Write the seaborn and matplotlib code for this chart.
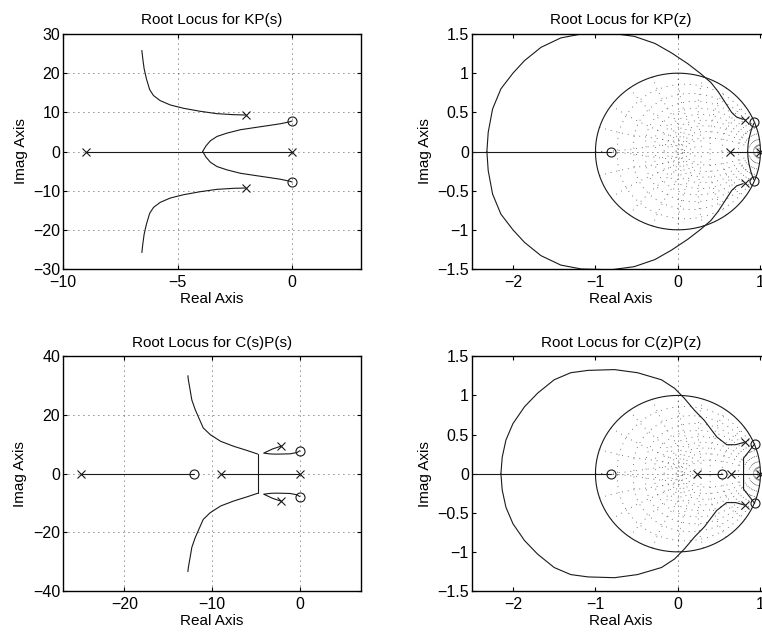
import numpy as np
import matplotlib
matplotlib.use("Agg")
import matplotlib.pyplot as plt
import seaborn as sns
from matplotlib.ticker import FixedLocator, FuncFormatter

# ------------------------------------------------------------------
# Data (upper half of each complex branch;
# the lower half is its complex conjugate)
# ------------------------------------------------------------------
# Panel 1 : Root Locus for KP(s)
s1_pole_re = [-9.0, 0.0, -2.0, -2.0]
s1_pole_im = [0.0, 0.0, 9.3, -9.3]
s1_zero_re = [0.0, 0.0]
s1_zero_im = [7.8, -7.8]
s1_real_seg = [(-9.0, 0.0)]
s1_asym_re = [-2.04, -2.55, -3.28, -4.01, -4.74, -5.32, -5.76, -6.05, -6.22, -6.36, -6.46, -6.52, -6.56]
s1_asym_im = [9.32, 9.40, 9.66, 10.26, 11.03, 11.88, 12.99, 14.27, 15.80, 18.55, 21.1, 23.7, 25.8]
s1_brk_re = [-3.91, -3.76, -3.57, -3.28, -2.84, -2.26, -1.68, -1.09, -0.51, -0.10, 0.0]
s1_brk_im = [0.0, 1.45, 2.74, 3.85, 4.70, 5.56, 6.07, 6.58, 7.09, 7.60, 7.8]

# Panel 2 : Root Locus for KP(z)
z1_pole_re = [0.636, 1.0, 0.81, 0.81]
z1_pole_im = [0.0, 0.0, 0.40, -0.40]
z1_zero_re = [-0.81, 0.925, 0.925]
z1_zero_im = [0.0, 0.38, -0.38]
z1_real_seg = [(-2.5, -0.81), (0.636, 1.0)]
z1_outer_re = [-2.316, -2.30, -2.247, -2.146, -2.0, -1.86, -1.66, -1.42, -1.17, -0.81, -0.53,
               -0.28, -0.08, 0.12, 0.28, 0.40, 0.49, 0.57, 0.65, 0.71, 0.79]
z1_outer_im = [0.0, 0.244, 0.543, 0.80, 1.0, 1.16, 1.33, 1.45, 1.50, 1.51, 1.47,
               1.38, 1.26, 1.12, 0.99, 0.88, 0.76, 0.63, 0.50, 0.44, 0.41]
z1_inner_re = [0.845, 0.85, 0.865, 0.89, 0.92]
z1_inner_im = [0.0, 0.09, 0.18, 0.28, 0.36]

# Panel 3 : Root Locus for C(s)P(s)
s2_pole_re = [-25.0, -9.0, 0.0, -2.1, -2.1]
s2_pole_im = [0.0, 0.0, 0.0, 9.4, -9.4]
s2_zero_re = [-12.0, 0.0, 0.0]
s2_zero_im = [0.0, 7.8, -7.8]
s2_real_seg = [(-25.0, -12.0), (-9.0, 0.0)]
s2_vert_re = [-4.8, -4.8]
s2_vert_im = [-6.7, 6.7]
s2_asym_re = [-4.8, -6.0, -7.5, -9.0, -10.2, -11.0, -11.4, -11.9, -12.3, -12.5, -12.7, -12.75]
s2_asym_im = [6.7, 7.9, 9.3, 11.0, 13.3, 15.6, 18.3, 21.7, 25.1, 28.6, 32.0, 33.4]
s2_loop_re = [-2.1, -3.1, -4.1, -3.3, -2.6, -1.1, -0.3, 0.0]
s2_loop_im = [9.4, 8.4, 7.0, 6.7, 6.65, 6.75, 7.2, 7.8]

# Panel 4 : Root Locus for C(z)P(z)
z2_pole_re = [0.235, 0.64, 1.0, 0.81, 0.81]
z2_pole_im = [0.0, 0.0, 0.0, 0.40, -0.40]
z2_zero_re = [-0.81, 0.535, 0.93, 0.93]
z2_zero_im = [0.0, 0.0, 0.38, -0.38]
z2_real_seg = [(-2.5, -0.81), (0.235, 0.535), (0.64, 1.0)]
z2_outer_re = [-2.146, -2.13, -2.085, -2.0, -1.86, -1.70, -1.50, -1.30, -1.09, -0.77, -0.49,
               -0.20, -0.04, 0.08, 0.20, 0.32, 0.47, 0.59, 0.70, 0.80]
z2_outer_im = [0.0, 0.21, 0.43, 0.64, 0.855, 1.03, 1.20, 1.29, 1.32, 1.33, 1.29,
               1.20, 1.09, 0.96, 0.81, 0.68, 0.47, 0.37, 0.37, 0.40]
z2_inner_re = [0.795, 0.795, 0.93]
z2_inner_im = [0.0, 0.197, 0.38]

# tick values
s1_xticks = [-10, -5, 0]
s1_yticks = [-30, -20, -10, 0, 10, 20, 30]
s2_xticks = [-20, -10, 0]
s2_yticks = [-40, -20, 0, 20, 40]
z_xticks = [-2, -1, 0, 1]
z_yticks = [-1.5, -1, -0.5, 0, 0.5, 1, 1.5]

# ------------------------------------------------------------------
sns.set_theme(style="ticks")
plt.rcParams.update({
    "font.family": ["Liberation Sans", "DejaVu Sans"],
    "font.size": 11,
    "axes.titlesize": 11,
    "axes.labelsize": 11,
    "xtick.labelsize": 11.5,
    "ytick.labelsize": 11.5,
    "axes.edgecolor": "black",
    "axes.linewidth": 1.0,
    "axes.labelcolor": "black",
    "text.color": "black",
    "xtick.color": "black",
    "ytick.color": "black",
    "xtick.direction": "in",
    "ytick.direction": "in",
    "xtick.top": True,
    "ytick.right": True,
    "xtick.major.size": 3,
    "ytick.major.size": 3,
    "xtick.major.width": 0.8,
    "ytick.major.width": 0.8,
    "xtick.major.pad": 4.5,
    "ytick.major.pad": 2,
    "axes.titlepad": 7,
})

LW = 0.8
DOT = (0, (1, 5))
GDOT = (0, (1, 6))

fig = plt.figure(figsize=(7.62, 6.34), dpi=100)
ax1 = fig.add_axes([63 / 762, 1 - 269 / 634, 298 / 762, 235 / 634])
ax2 = fig.add_axes([471.7 / 762, 1 - 269 / 634, 298 / 762, 235 / 634])
ax3 = fig.add_axes([63 / 762, 1 - 591 / 634, 298 / 762, 234.7 / 634])
ax4 = fig.add_axes([471.7 / 762, 1 - 591 / 634, 298 / 762, 234.7 / 634])

fmt = FuncFormatter(lambda v, p: ("%g" % v).replace("-", "\u2212"))


def branch(ax, re, im, mirror=True):
    re = np.asarray(re, float)
    im = np.asarray(im, float)
    sns.lineplot(x=re, y=im, sort=False, estimator=None, ax=ax, color="k", lw=LW)
    if mirror:
        sns.lineplot(x=re, y=-im, sort=False, estimator=None, ax=ax, color="k", lw=LW)


def real_segments(ax, segs):
    for a, b in segs:
        sns.lineplot(x=[a, b], y=[0, 0], sort=False, estimator=None, ax=ax, color="k", lw=LW)


def marks(ax, pre, pim, zre, zim):
    ax.plot(pre, pim, ls="none", marker="x", ms=5.5, mew=0.8, color="k", zorder=5)
    ax.plot(zre, zim, ls="none", marker="o", ms=6.5, mew=0.8, mfc="none", mec="k", zorder=5)


def zgrid(ax):
    style = dict(color="0.3", lw=0.6, ls=GDOT, zorder=1)
    th = np.linspace(0, np.pi, 80)
    for zeta in np.arange(0.1, 0.95, 0.1):
        m = zeta / np.sqrt(1 - zeta ** 2)
        z = np.exp((-m + 1j) * th)
        ax.plot(z.real, z.imag, **style)
        ax.plot(z.real, -z.imag, **style)
    ph = np.linspace(np.pi / 2, np.pi, 40)
    for wn in np.arange(0.1, 1.01, 0.1) * np.pi:
        z = np.exp(wn * np.exp(1j * ph))
        ax.plot(z.real, z.imag, **style)
        ax.plot(z.real, -z.imag, **style)
    for wn in [0.04, 0.09]:
        z = np.exp(wn * np.exp(1j * ph))
        ax.plot(z.real, z.imag, color="0.6", lw=0.5, zorder=1)
        ax.plot(z.real, -z.imag, color="0.6", lw=0.5, zorder=1)
    t = np.linspace(0, 2 * np.pi, 300)
    ax.plot(np.cos(t), np.sin(t), color="k", lw=LW, zorder=2)


def finish(ax, title, xlim, ylim, xt, yt, grid):
    ax.set_xlim(*xlim)
    ax.set_ylim(*ylim)
    ax.xaxis.set_major_locator(FixedLocator(xt))
    ax.yaxis.set_major_locator(FixedLocator(yt))
    ax.xaxis.set_major_formatter(fmt)
    ax.yaxis.set_major_formatter(fmt)
    ax.set_title(title)
    ax.set_xlabel("Real Axis", labelpad=1)
    ax.set_ylabel("Imag Axis", labelpad=4)
    for s in ax.spines.values():
        s.set_visible(True)
        s.set_color("black")
    if grid:
        ax.grid(True, color="0.1", lw=0.6, ls=DOT)
    else:
        ax.axvline(0, color="0.1", lw=0.6, ls=DOT, zorder=1)
        ax.axhline(0, color="0.1", lw=0.6, ls=DOT, zorder=1)


# Panel 1
real_segments(ax1, s1_real_seg)
branch(ax1, s1_asym_re, s1_asym_im)
branch(ax1, s1_brk_re, s1_brk_im)
marks(ax1, s1_pole_re, s1_pole_im, s1_zero_re, s1_zero_im)
finish(ax1, "Root Locus for KP(s)", (-10, 3), (-30, 30), s1_xticks, s1_yticks, True)

# Panel 2
zgrid(ax2)
real_segments(ax2, z1_real_seg)
branch(ax2, z1_outer_re, z1_outer_im)
branch(ax2, z1_inner_re, z1_inner_im)
marks(ax2, z1_pole_re, z1_pole_im, z1_zero_re, z1_zero_im)
finish(ax2, "Root Locus for KP(z)", (-2.5, 1.112), (-1.5, 1.5), z_xticks, z_yticks, False)

# Panel 3
real_segments(ax3, s2_real_seg)
branch(ax3, s2_vert_re, s2_vert_im, mirror=False)
branch(ax3, s2_asym_re, s2_asym_im)
branch(ax3, s2_loop_re, s2_loop_im)
marks(ax3, s2_pole_re, s2_pole_im, s2_zero_re, s2_zero_im)
finish(ax3, "Root Locus for C(s)P(s)", (-27, 7), (-40, 40), s2_xticks, s2_yticks, True)

# Panel 4
zgrid(ax4)
real_segments(ax4, z2_real_seg)
branch(ax4, z2_outer_re, z2_outer_im)
branch(ax4, z2_inner_re, z2_inner_im)
marks(ax4, z2_pole_re, z2_pole_im, z2_zero_re, z2_zero_im)
finish(ax4, "Root Locus for C(z)P(z)", (-2.5, 1.112), (-1.5, 1.5), z_xticks, z_yticks, False)

fig.savefig("out.png", dpi=100)
